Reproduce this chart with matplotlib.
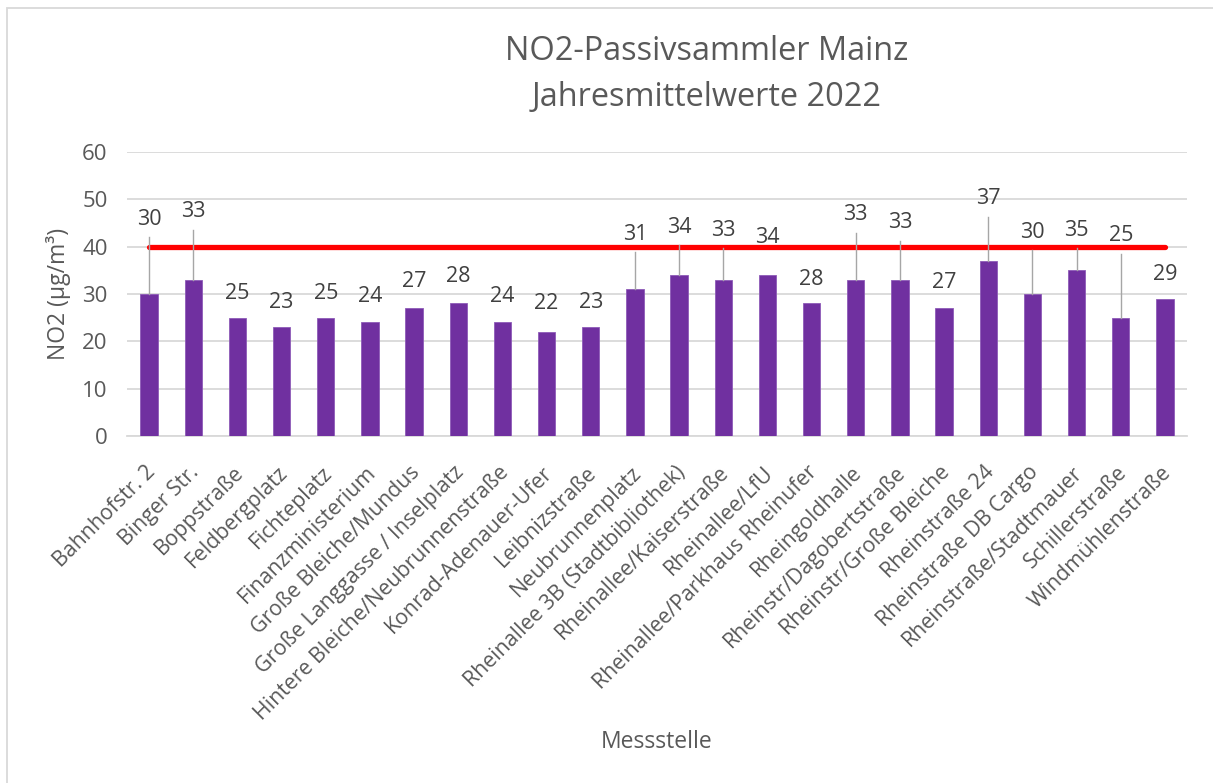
import matplotlib
matplotlib.use("Agg")
import matplotlib.pyplot as plt
from matplotlib.patches import Rectangle
from matplotlib.transforms import ScaledTranslation

plt.rcParams['font.family'] = ['Open Sans', 'DejaVu Sans']

stations = [
    "Bahnhofstr. 2", "Binger Str.", "Boppstraße", "Feldbergplatz", "Fichteplatz",
    "Finanzministerium", "Große Bleiche/Mundus", "Große Langgasse / Inselplatz",
    "Hintere Bleiche/Neubrunnenstraße", "Konrad-Adenauer-Ufer", "Leibnizstraße",
    "Neubrunnenplatz", "Rheinallee 3B (Stadtbibliothek)", "Rheinallee/Kaiserstraße",
    "Rheinallee/LfU", "Rheinallee/Parkhaus Rheinufer", "Rheingoldhalle",
    "Rheinstr/Dagobertstraße", "Rheinstr/Große Bleiche", "Rheinstraße 24",
    "Rheinstraße DB Cargo", "Rheinstraße/Stadtmauer", "Schillerstraße",
    "Windmühlenstraße",
]
no2_values = [30, 33, 25, 23, 25, 24, 27, 28, 24, 22, 23, 31, 34, 33, 34, 28,
              33, 33, 27, 37, 30, 35, 25, 29]
limit_value = 40
yticks = [0, 10, 20, 30, 40, 50, 60]

# manually placed data-label heights (layout), as in the original chart
label_y = [45.8, 47.4, 30.2, 28.3, 30.2, 29.4, 32.7, 33.8, 29.4, 27.9, 28.3,
           42.6, 44.1, 43.5, 42.0, 33.0, 46.7, 45.1, 32.4, 50.1, 43.0, 43.5,
           42.3, 34.2]

W, H = 1213, 783
fig = plt.figure(figsize=(W / 100, H / 100), dpi=100)
ax = fig.add_axes([127 / W, 1 - 436 / H, (1187 - 127) / W, (436 - 152) / H])

text_col = "#595959"
grid_col = "#D9D9D9"

x = list(range(len(stations)))
ax.bar(x, no2_values, width=0.39, color="#7030A0", edgecolor="#8E5BB8",
       linewidth=0.6, zorder=3)
ax.plot([x[0], x[-1]], [limit_value, limit_value], color="#FF0000", lw=3.8,
        solid_capstyle="round", zorder=4)

for xi, v, ly in zip(x, no2_values, label_y):
    ax.text(xi, ly, str(v), ha="center", va="center", fontsize=15.5,
            color="#404040", zorder=6)
    if ly - v > 8:
        ax.plot([xi, xi], [v, ly - 3.8], color="#A6A6A6", lw=1.0, zorder=5)

ax.set_xlim(-0.5, len(stations) - 0.5)
ax.set_ylim(0, 60)
ax.set_yticks(yticks)
ax.set_yticklabels([str(t) for t in yticks], fontsize=16, color=text_col)
ax.yaxis.grid(True, color=grid_col, lw=1.3, zorder=0)
ax.set_axisbelow(True)
for s in ["left", "right", "top"]:
    ax.spines[s].set_visible(False)
ax.spines["bottom"].set_color(grid_col)
ax.spines["bottom"].set_linewidth(1.3)
ax.tick_params(axis="both", length=0)
ax.tick_params(axis="y", pad=14)

ax.set_xticks(x)
ax.set_xticklabels(stations, rotation=45, ha="right", va="center",
                   rotation_mode="anchor", fontsize=15.3, color=text_col)
ax.tick_params(axis="x", pad=24)
for lab in ax.get_xticklabels():
    lab.set_transform(lab.get_transform() + ScaledTranslation(3 / 100, 0, fig.dpi_scale_trans))

ax.set_ylabel("NO2 (µg/m³)", fontsize=16.5, color=text_col, labelpad=8)
fig.text(657 / W, 1 - 742 / H, "Messstelle", ha="center", va="center",
         fontsize=16.5, color=text_col)

fig.text(707 / W, 1 - 52 / H, "NO2-Passivsammler Mainz", ha="center", va="center",
         fontsize=23.4, color=text_col)
fig.text(707 / W, 1 - 97 / H, "Jahresmittelwerte 2022", ha="center", va="center",
         fontsize=23.4, color=text_col)

fig.patches.append(Rectangle((6.5 / W, -0.1), 1.2, 1 - 8 / H + 0.1,
                             transform=fig.transFigure, fill=False,
                             edgecolor=grid_col, lw=1.3))

fig.savefig("out.png", dpi=100)
